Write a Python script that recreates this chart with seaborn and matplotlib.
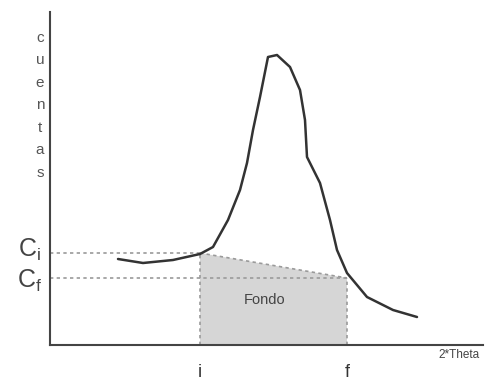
import numpy as np
import pandas as pd
import seaborn as sns
import matplotlib.pyplot as plt

# Peak profile (arbitrary units)
theta = [68, 93, 123, 150, 163, 178, 190, 197, 203, 210, 218, 227, 240, 250,
         255, 257, 270, 280, 287, 297, 317, 343, 367]
counts = [86, 82, 85, 91, 98, 125, 155, 182, 215, 248, 288, 290, 278, 255,
          225, 188, 162, 125, 95, 72, 48, 35, 28]

# Background limits
pos_i, pos_f = 150, 297
c_i, c_f = 92, 67
tick_labels = ['i', 'f']

df = pd.DataFrame({'theta': theta, 'counts': counts})

sns.set_style('white')
plt.rcParams['font.family'] = ['Liberation Sans', 'DejaVu Sans']

fig = plt.figure(figsize=(4.88, 3.92), dpi=100)
ax = fig.add_axes([50 / 488, 47 / 392, 433 / 488, 333 / 392])

# Background trapezoid
ax.fill([pos_i, pos_f, pos_f, pos_i], [c_i, c_f, 0, 0],
        facecolor='#d6d6d6', edgecolor='none', zorder=1)
dash = dict(color='#9a9a9a', lw=1.2, ls=(0, (2, 2)), zorder=2)
ax.plot([0, pos_i], [c_i, c_i], **dash)
ax.plot([0, pos_f], [c_f, c_f], **dash)
ax.plot([pos_i, pos_f], [c_i, c_f], **dash)
ax.plot([pos_i, pos_i], [0, c_i], **dash)
ax.plot([pos_f, pos_f], [0, c_f], **dash)

sns.lineplot(data=df, x='theta', y='counts', sort=False, color='#333333',
             lw=1.8, ax=ax, zorder=3)

ax.set_xlim(0, 433)
ax.set_ylim(0, 333)
for s in ['top', 'right']:
    ax.spines[s].set_visible(False)
for s in ['left', 'bottom']:
    ax.spines[s].set_color('#444444')
    ax.spines[s].set_linewidth(1.5)

ax.set_xticks([pos_i, pos_f], tick_labels, fontsize=13, color='#333333')
ax.tick_params(axis='x', length=0, pad=14)
ax.set_yticks([])
ax.set_xlabel('')
ax.set_ylabel('')

ax.text(-20, c_i + 3, r'$\mathregular{C_i}$', fontsize=18, color='#444444',
        ha='center', va='center', clip_on=False)
ax.text(-20, c_f - 3, r'$\mathregular{C_f}$', fontsize=18, color='#444444',
        ha='center', va='center', clip_on=False)
ax.text(-0.023, 0.72, '\n'.join('cuentas'), transform=ax.transAxes,
        fontsize=11, color='#555555', ha='center', va='center',
        linespacing=1.78, clip_on=False)
ax.text(215, 45, 'Fondo', fontsize=10.5, color='#444444',
        ha='center', va='center', zorder=4)
ax.text(430, -10, '2*Theta', fontsize=8.5, color='#444444',
        ha='right', va='center', clip_on=False)

fig.savefig('out.png', dpi=100)
